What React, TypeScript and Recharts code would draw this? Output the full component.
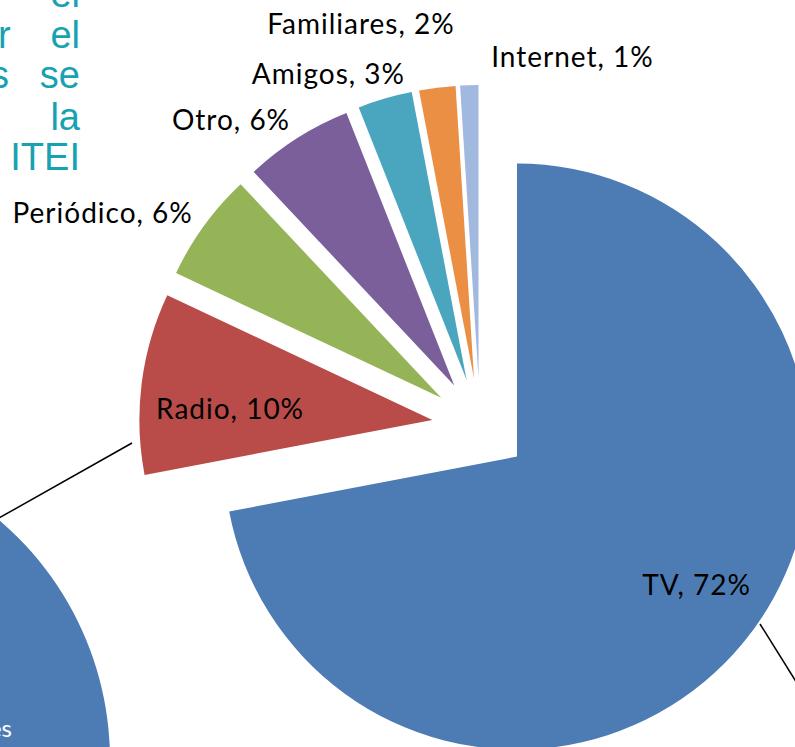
import { Pie, PieChart, Sector, Cell } from 'recharts';

const MEDIOS = ['TV', 'Radio', 'Periódico', 'Otro', 'Amigos', 'Familiares', 'Internet'];
const PORCENTAJES = [72, 10, 6, 6, 3, 2, 1];
const COLORES = ['#4D7CB5', '#B94C49', '#95B458', '#7A5F9B', '#4AA6BE', '#EB8F45', '#A1B8DF'];

// second (cut-off) pie at the lower left
const SUB_MEDIOS = ['Otros'];
const SUB_VALORES = [100];

// label placement per slice: radius factor along mid angle + nudge
const LABEL_SPOTS = [
  { rf: 0.747, dx: 11, dy: -12 },
  { rf: 0.689, dx: -2, dy: 13 },
  { rf: 1.31, dx: -28, dy: 40 },
  { rf: 1.18, dx: -38, dy: 25 },
  { rf: 1.14, dx: -45, dy: 14 },
  { rf: 1.255, dx: -67, dy: 9 },
  { rf: 1.092, dx: 104, dy: -2 },
];

const W = 795;
const H = 747;
const RADIAN = Math.PI / 180;
const EXPLODE = 48;
const LABEL_FONT = "Lato, 'Open Sans', sans-serif";

const data = MEDIOS.map((m, i) => ({ name: m, value: PORCENTAJES[i] }));
const subData = SUB_MEDIOS.map((m, i) => ({ name: m, value: SUB_VALORES[i] }));

function shift(mid: number) {
  return { x: EXPLODE * Math.cos(-mid * RADIAN), y: EXPLODE * Math.sin(-mid * RADIAN) };
}

function ExplodedSlice(props: any) {
  const s = shift(props.midAngle);
  return <Sector {...props} cx={props.cx + s.x} cy={props.cy + s.y} stroke="none" />;
}

function SliceLabel(props: any) {
  const { cx, cy, midAngle, outerRadius, index, name, value } = props;
  const spot = LABEL_SPOTS[index];
  const s = shift(midAngle);
  const r = outerRadius * spot.rf;
  const x = cx + s.x + r * Math.cos(-midAngle * RADIAN) + spot.dx;
  const y = cy + s.y + r * Math.sin(-midAngle * RADIAN) + spot.dy;
  return (
    <text
      x={x}
      y={y}
      textAnchor="middle"
      dominantBaseline="central"
      fill="#000"
      fontSize={28}
      letterSpacing={1}
      fontFamily={LABEL_FONT}
    >
      {`${name}, ${value}%`}
    </text>
  );
}

const TEAL = '#17A2B2';
const TEAL_FONT = "'Liberation Sans', Arial, sans-serif";

export default function App() {
  return (
    <div style={{ position: 'absolute', left: 0, top: 0, width: W, height: H, background: '#fff', overflow: 'hidden' }}>
      <PieChart width={W} height={H} margin={{ top: 0, right: 0, bottom: 0, left: 0 }}>
        <Pie
          data={subData}
          dataKey="value"
          cx={-205}
          cy={760}
          outerRadius={315}
          startAngle={90}
          endAngle={-270}
          stroke="none"
          isAnimationActive={false}
        >
          <Cell fill={COLORES[0]} />
        </Pie>
        <Pie
          data={data}
          dataKey="value"
          cx={480}
          cy={426}
          outerRadius={293}
          startAngle={90}
          endAngle={-270}
          shape={ExplodedSlice}
          label={SliceLabel}
          labelLine={false}
          isAnimationActive={false}
        >
          {data.map((d, i) => (
            <Cell key={d.name} fill={COLORES[i]} />
          ))}
        </Pie>
      </PieChart>
      <svg width={W} height={H} style={{ position: 'absolute', left: 0, top: 0, pointerEvents: 'none' }}>
        <line x1={132} y1={443} x2={-40} y2={540} stroke="#000" strokeWidth={1.5} />
        <line x1={760} y1={624} x2={820} y2={720} stroke="#000" strokeWidth={1.5} />
        <text x={12} y={737} textAnchor="end" fill="#fff" fontSize={24} fontFamily={LABEL_FONT}>es</text>
        <g fill={TEAL} fontSize={38} fontFamily={TEAL_FONT}>
          <text x={80} y={7} textAnchor="end">el</text>
          <text x={-2} y={48}>r</text>
          <text x={80} y={48} textAnchor="end">el</text>
          <text x={-10} y={88}>s</text>
          <text x={80} y={88} textAnchor="end">se</text>
          <text x={80} y={130} textAnchor="end">la</text>
          <text x={80} y={170} textAnchor="end">ITEI</text>
        </g>
      </svg>
    </div>
  );
}
